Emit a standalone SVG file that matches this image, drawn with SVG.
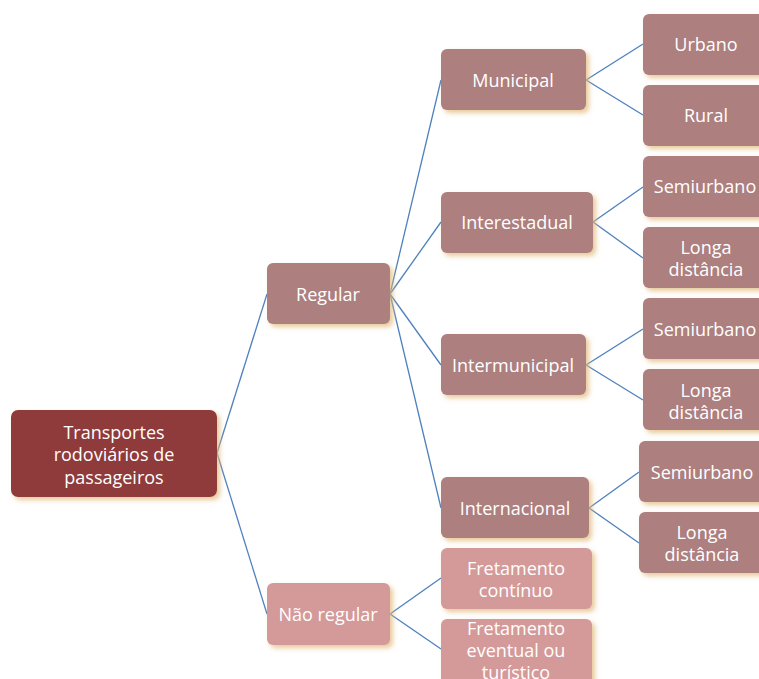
<svg xmlns="http://www.w3.org/2000/svg" width="759" height="679" viewBox="0 0 759 679">
<defs>
<filter id="sh" x="-10%" y="-10%" width="130%" height="140%">
<feGaussianBlur in="SourceAlpha" stdDeviation="2.5" result="b"/>
<feOffset dx="3" dy="3" result="o"/>
<feFlood flood-color="#e0b878" flood-opacity="0.75"/>
<feComposite in2="o" operator="in" result="s"/>
<feMerge><feMergeNode in="s"/><feMergeNode in="SourceGraphic"/></feMerge>
</filter>
</defs>
<style>
rect{filter:url(#sh)}
.root{fill:#8f3b3b}
.mid{fill:#ad7f7f}
.lt{fill:#d49a9a}
text{font-family:"Open Sans","Liberation Sans",sans-serif;font-size:18px;fill:#ffffff;text-anchor:middle}
.c line{stroke:#4f81bd;stroke-width:1.3}
</style>
<g class="c" id="connectors">
<line x1="217" y1="453" x2="267" y2="294"/>
<line x1="217" y1="453" x2="267" y2="614"/>
<line x1="390" y1="294" x2="441" y2="80"/>
<line x1="390" y1="294" x2="441" y2="222"/>
<line x1="390" y1="294" x2="441" y2="365"/>
<line x1="390" y1="294" x2="441" y2="508"/>
<line x1="390" y1="614" x2="441" y2="578"/>
<line x1="390" y1="614" x2="441" y2="649"/>
<line x1="586" y1="80" x2="643" y2="44"/>
<line x1="586" y1="80" x2="643" y2="115"/>
<line x1="593" y1="222" x2="643" y2="187"/>
<line x1="593" y1="222" x2="643" y2="258"/>
<line x1="586" y1="365" x2="643" y2="329"/>
<line x1="586" y1="365" x2="643" y2="400"/>
<line x1="589" y1="508" x2="639" y2="472"/>
<line x1="589" y1="508" x2="639" y2="543"/>
</g>
<g id="root"><rect class="root" x="11" y="410" width="206" height="87" rx="7"/>
<text x="114" y="439">Transportes</text><text x="114" y="461">rodoviários de</text><text x="114" y="484">passageiros</text></g>
<g id="regular"><rect class="mid" x="267" y="263" width="123" height="61" rx="6"/><text x="328" y="301">Regular</text></g>
<g id="naoregular"><rect class="lt" x="267" y="583" width="123" height="62" rx="6"/><text x="328" y="621">Não regular</text></g>
<g id="municipal"><rect class="mid" x="441" y="49" width="145" height="61" rx="6"/><text x="513" y="87">Municipal</text></g>
<g id="interestadual"><rect class="mid" x="441" y="192" width="152" height="61" rx="6"/><text x="517" y="229">Interestadual</text></g>
<g id="intermunicipal"><rect class="mid" x="441" y="334" width="145" height="61" rx="6"/><text x="513" y="372">Intermunicipal</text></g>
<g id="internacional"><rect class="mid" x="441" y="477" width="148" height="61" rx="6"/><text x="515" y="515">Internacional</text></g>
<g id="fret1"><rect class="lt" x="441" y="548" width="151" height="61" rx="6"/><text x="516" y="575">Fretamento</text><text x="516" y="597">contínuo</text></g>
<g id="fret2"><rect class="lt" x="441" y="619" width="151" height="75" rx="6"/><text x="516" y="635">Fretamento</text><text x="516" y="657">eventual ou</text><text x="516" y="679">turístico</text></g>
<g id="urbano"><rect class="mid" x="643" y="14" width="126" height="61" rx="6"/><text x="706" y="51">Urbano</text></g>
<g id="rural"><rect class="mid" x="643" y="85" width="126" height="61" rx="6"/><text x="706" y="122">Rural</text></g>
<g id="semi1"><rect class="mid" x="643" y="156" width="126" height="61" rx="6"/><text x="705" y="193">Semiurbano</text></g>
<g id="longa1"><rect class="mid" x="643" y="227" width="126" height="61" rx="6"/><text x="706" y="254">Longa</text><text x="706" y="276">distância</text></g>
<g id="semi2"><rect class="mid" x="643" y="298" width="126" height="61" rx="6"/><text x="705" y="336">Semiurbano</text></g>
<g id="longa2"><rect class="mid" x="643" y="369" width="126" height="61" rx="6"/><text x="706" y="397">Longa</text><text x="706" y="419">distância</text></g>
<g id="semi3"><rect class="mid" x="639" y="441" width="130" height="61" rx="6"/><text x="702" y="479">Semiurbano</text></g>
<g id="longa3"><rect class="mid" x="639" y="512" width="130" height="61" rx="6"/><text x="702" y="539">Longa</text><text x="702" y="561">distância</text></g>
</svg>
